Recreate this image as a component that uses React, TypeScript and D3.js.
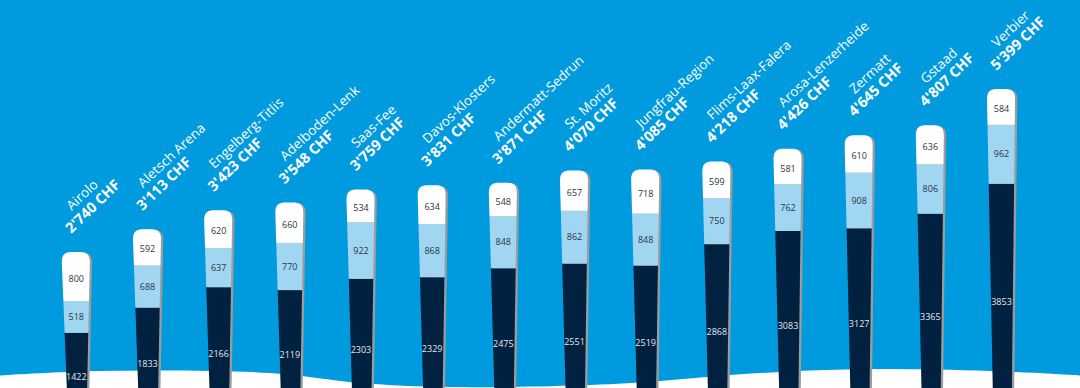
import React from "react";
import * as d3 from "d3";

const resorts = [
  "Airolo", "Aletsch Arena", "Engelberg-Titlis", "Adelboden-Lenk", "Saas-Fee",
  "Davos-Klosters", "Andermatt-Sedrun", "St. Moritz", "Jungfrau-Region",
  "Flims-Laax-Falera", "Arosa-Lenzerheide", "Zermatt", "Gstaad", "Verbier",
];
const totalLabels = [
  "2'740 CHF", "3'113 CHF", "3'423 CHF", "3'548 CHF", "3'759 CHF", "3'831 CHF",
  "3'871 CHF", "4'070 CHF", "4'085 CHF", "4'218 CHF", "4'426 CHF", "4'645 CHF",
  "4'807 CHF", "5'399 CHF",
];
const darkValues = [1422, 1833, 2166, 2119, 2303, 2329, 2475, 2551, 2519, 2868, 3083, 3127, 3365, 3853];
const midValues = [518, 688, 637, 770, 922, 868, 848, 862, 848, 750, 762, 908, 806, 962];
const topValues = [800, 592, 620, 660, 534, 634, 548, 657, 718, 599, 581, 610, 636, 584];

const W = 1080;
const H = 388;
const BASE = 420;
const BG = "#009ade";
const FONT = "'Open Sans', Lato, sans-serif";

function skiPath(cx: number, yt: number): string {
  const hwTop = 14;
  const hwBot = 9;
  const shift = 1.5;
  const r = 10;
  const L = cx - hwTop;
  const R = cx + hwTop;
  return [
    `M${L},${yt + r}`,
    `L${cx + shift - hwBot},${BASE + 5}`,
    `L${cx + shift + hwBot},${BASE + 5}`,
    `L${R},${yt + r}`,
    `C${R},${yt + 2} ${R - 4},${yt} ${R - r},${yt}`,
    `L${L + r},${yt}`,
    `C${L + 4},${yt} ${L},${yt + 2} ${L},${yt + r}`,
    "Z",
  ].join(" ");
}

export default function App() {
  const x = d3.scalePoint<string>().domain(resorts).range([75.8, 1001]);
  const y = d3.scaleLinear().domain([0, 5399]).range([BASE, 89]);

  const hill = d3
    .line<[number, number]>()
    .curve(d3.curveCatmullRom.alpha(0.5))([
      [-10, 376], [100, 371], [270, 373], [360, 383], [450, 387], [590, 385],
      [660, 381], [730, 375], [800, 371], [875, 369], [990, 371], [1090, 376],
    ]);

  return (
    <svg
      width={W}
      height={H}
      style={{ position: "absolute", left: 0, top: 0, display: "block" }}
    >
      <rect x={0} y={0} width={W} height={H} fill={BG} />
      <path d={`${hill} L1090,${H + 10} L-10,${H + 10} Z`} fill="#ffffff" />
      <defs>
        {resorts.map((r, i) => {
          const total = darkValues[i] + midValues[i] + topValues[i];
          return (
            <clipPath id={`ski-${i}`} key={r}>
              <path d={skiPath(x(r) as number, y(total))} />
            </clipPath>
          );
        })}
      </defs>
      {resorts.map((r, i) => {
        const cx = x(r) as number;
        const d0 = darkValues[i];
        const d1 = d0 + midValues[i];
        const d2 = d1 + topValues[i];
        const yt = y(d2);
        const segs = [
          { y0: 0, y1: d0, fill: "#002140", v: darkValues[i], tc: "#e4e8ee" },
          { y0: d0, y1: d1, fill: "#a1d6f3", v: midValues[i], tc: "#2b3440" },
          { y0: d1, y1: d2 + 200, fill: "#ffffff", v: topValues[i], tc: "#2b3440" },
        ];
        return (
          <g key={r}>
            <path d={skiPath(cx, yt)} transform="translate(2.3,0.6)" fill="#9c9c9c" />
            <g clipPath={`url(#ski-${i})`}>
              {segs.map((s, j) => (
                <rect
                  key={j}
                  x={cx - 20}
                  width={40}
                  y={y(s.y1)}
                  height={y(s.y0) - y(s.y1)}
                  fill={s.fill}
                />
              ))}
            </g>
            {segs.map((s, j) => {
              const top = j === 2 ? d2 : s.y1;
              const cy = (y(s.y0) + y(top)) / 2 + (j === 2 ? 2 : 0);
              return (
                <text
                  key={`t${j}`}
                  x={cx + 0.5}
                  y={cy}
                  dy="0.35em"
                  textAnchor="middle"
                  fontFamily={FONT}
                  fontSize={9}
                  fill={s.tc}
                >
                  {s.v}
                </text>
              );
            })}
            <g transform={`translate(${cx - 4.5},${yt - 18}) rotate(-44)`}>
              <text fontFamily={FONT} fontWeight="bold" fontSize={14.5} fill="#ffffff">
                {totalLabels[i]}
              </text>
            </g>
            <g transform={`translate(${cx - 4},${yt - 41}) rotate(-43)`}>
              <text fontFamily={FONT} fontSize={13.5} fill="#ffffff">
                {r}
              </text>
            </g>
          </g>
        );
      })}
    </svg>
  );
}
